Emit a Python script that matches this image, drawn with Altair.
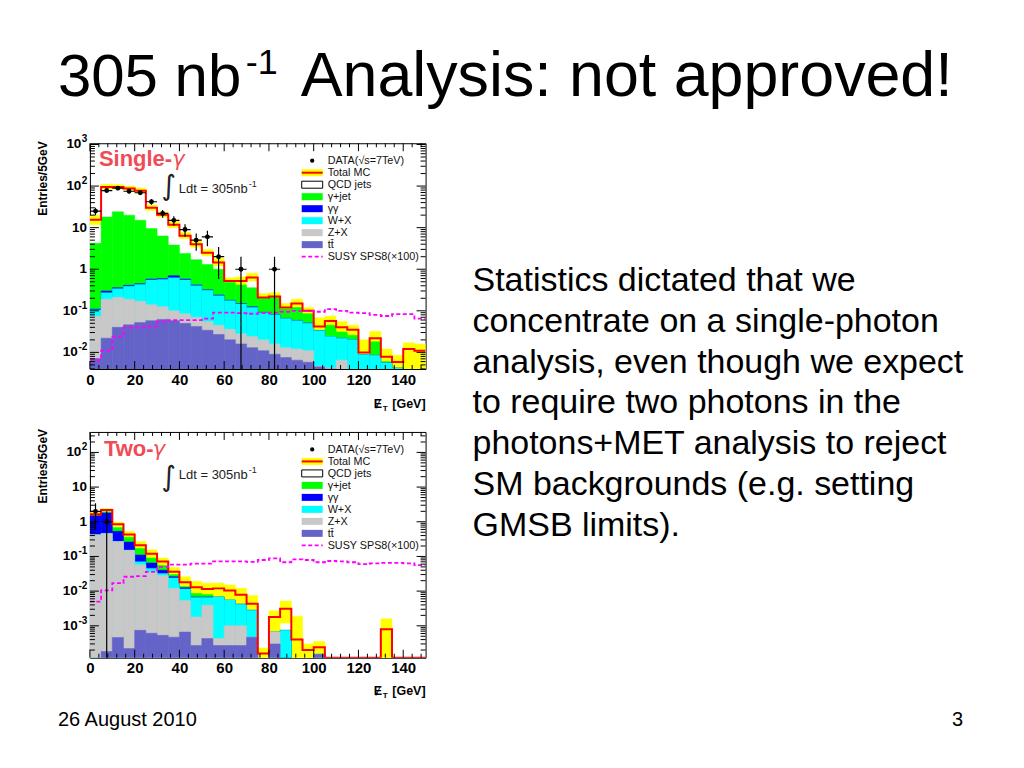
import math
import altair as alt
import pandas as pd

FONT = "Liberation Sans"

# ---------------- binning ----------------
BIN_LO = [0, 5, 10, 15, 20, 25, 30, 35, 40, 45, 50, 55, 60, 65, 70, 75, 80, 85, 90, 95,
          100, 105, 110, 115, 120, 125, 130, 135, 140, 145]
BIN_W = 5
X_MAX = 150
X_TICKS = [0, 20, 40, 60, 80, 100, 120, 140]
X_MINOR = [4, 8, 12, 16, 24, 28, 32, 36, 44, 48, 52, 56, 64, 68, 72, 76, 84, 88, 92, 96,
           104, 108, 112, 116, 124, 128, 132, 136, 144, 148]

# ---------------- Single-gamma panel (cumulative stack tops) ----------------
S_DATA = [25, 78, 89, 75, 69, 42, 22, 15, 9, 5, 6, 2, 0, 1, 0, 0, 1, 0, 0, 0, 0, 0, 0, 0, 0, 0, 0, 0, 0, 0]
S_TOTAL = [15.5, 95, 95, 88, 77, 30, 20.5, 11.7, 6.4, 4.0, 2.5, 1.45, 0.52, 0.52, 0.63, 0.21, 0.22, 0.12,
           0.15, 0.10, 0.042, 0.057, 0.040, 0.035, 0.010, 0.022, 0.0079, 0.0059, 0.012, 0.011]
S_HI = [20, 110, 108, 100, 90, 35, 24, 14, 7.6, 4.8, 3.0, 1.8, 0.62, 0.65, 0.80, 0.26, 0.27, 0.15,
        0.19, 0.12, 0.068, 0.075, 0.055, 0.045, 0.020, 0.032, 0.012, 0.0085, 0.017, 0.016]
S_LO = [11.7, 85, 85, 80, 68, 26, 18, 10, 5.5, 3.4, 2.1, 1.2, 0.44, 0.42, 0.52, 0.17, 0.17, 0.095,
        0.12, 0.08, 0.03, 0.043, 0.03, 0.026, 0.0065, 0.014, 0.005, 0.004, 0.003, 0.003]
S_GJET = [4.2, 18, 24, 20, 15, 9.5, 6.3, 3.8, 2.4, 1.7, 1.3, 1.0, 0.48, 0.42, 0.36, 0.20, 0.21, 0.11,
          0.12, 0.085, 0.034, 0.045, 0.031, 0.026, 0.0088, 0.018, 0.006, 0.0042, 0.003, 0.003]
S_GG = [0.11, 0.30, 0.36, 0.41, 0.45, 0.58, 0.60, 0.70, 0.58, 0.42, 0.32, 0.24, 0.18, 0.15, 0.125, 0.092,
        0.082, 0.066, 0.059, 0.051, 0.033, 0.024, 0.022, 0.02, 0.0088, 0.0085, 0.0056, 0.0042, 0.003, 0.003]
S_WX = [0.105, 0.27, 0.34, 0.39, 0.43, 0.55, 0.57, 0.62, 0.55, 0.40, 0.31, 0.23, 0.175, 0.145, 0.12, 0.09,
        0.08, 0.065, 0.058, 0.05, 0.033, 0.024, 0.022, 0.02, 0.0088, 0.0085, 0.0056, 0.0042, 0.003, 0.003]
S_ZX = [0.074, 0.19, 0.21, 0.19, 0.17, 0.14, 0.125, 0.10, 0.085, 0.07, 0.055, 0.045, 0.036, 0.028, 0.024,
        0.02, 0.016, 0.013, 0.012, 0.011, 0.0047, 0.0042, 0.0065, 0.003, 0.003, 0.003, 0.003, 0.003, 0.003, 0.003]
S_TT = [0.0071, 0.022, 0.040, 0.046, 0.052, 0.058, 0.062, 0.058, 0.050, 0.042, 0.034, 0.027, 0.020, 0.016,
        0.013, 0.011, 0.009, 0.0075, 0.0065, 0.0058, 0.0045, 0.004, 0.0035, 0.003, 0.003, 0.003, 0.003, 0.003,
        0.003, 0.003]
S_SUSY = [0.0065, 0.011, 0.024, 0.040, 0.040, 0.042, 0.055, 0.06, 0.06, 0.06, 0.065, 0.09, 0.09, 0.088, 0.085,
          0.088, 0.09, 0.095, 0.1, 0.098, 0.095, 0.11, 0.1, 0.09, 0.088, 0.08, 0.075, 0.083, 0.083, 0.065]

# ---------------- Two-gamma panel (cumulative stack tops) ----------------
D_DATA = [2, 1, 0, 0, 0, 0, 0, 0, 0, 0, 0, 0, 0, 0, 0, 0, 0, 0, 0, 0, 0, 0, 0, 0, 0, 0, 0, 0, 0, 0]
D_TOTAL = [1.66, 2.2, 0.85, 0.43, 0.21, 0.12, 0.072, 0.036, 0.018, 0.013, 0.0115, 0.012, 0.0105, 0.0078,
           0.0043, 1.6e-4, 0.0018, 0.0031, 4.0e-4, 2.0e-4, 2.4e-4, 0, 0, 0, 0, 0, 8.0e-4, 0, 0, 0]
D_HI = [1.85, 2.4, 0.98, 0.52, 0.27, 0.155, 0.09, 0.048, 0.026, 0.019, 0.017, 0.017, 0.015, 0.012, 0.0075,
        2.3e-4, 0.0027, 0.0052, 0.0019, 3.0e-4, 3.5e-4, 0, 0, 0, 0, 0, 0.0016, 0, 0, 0]
D_LO = [1.45, 2.0, 0.72, 0.36, 0.16, 0.085, 0.05, 0.024, 0.011, 0.0075, 0.0065, 0.0065, 0.005, 0.0032,
        0.0012, 0, 6e-4, 0.0012, 0, 0, 0, 0, 0, 0, 0, 0, 0, 0, 0, 0]
D_GJET = [1.5, 1.95, 0.68, 0.36, 0.17, 0.09, 0.055, 0.03, 0.0135, 0.0085, 0.0080, 0.0068, 0.0055, 0.0042,
          0.0028, 0, 6.6e-4, 7.4e-4, 0, 0, 1.5e-4, 0, 0, 0, 0, 0, 0, 0, 0, 0]
D_GG = [1.5, 1.8, 0.53, 0.26, 0.11, 0.065, 0.04, 0.026, 0.0125, 0.0068, 0.0068, 0.0068, 0.0055, 0.0042,
        0.0028, 0, 6.6e-4, 7.4e-4, 0, 0, 1.5e-4, 0, 0, 0, 0, 0, 0, 0, 0, 0]
D_WX = [0.42, 0.46, 0.27, 0.15, 0.07, 0.045, 0.032, 0.024, 0.0115, 0.0065, 0.0065, 0.0068, 0.0055, 0.0042,
        0.0028, 0, 6.6e-4, 7.4e-4, 0, 0, 1.5e-4, 0, 0, 0, 0, 0, 0, 0, 0, 0]
D_ZX = [0.42, 0.46, 0.27, 0.15, 0.058, 0.037, 0.028, 0.012, 0.0054, 0.0018, 0.0039, 4.3e-4, 0.001, 0.001,
        4.7e-4, 0, 6.6e-4, 0, 0, 0, 1.5e-4, 0, 0, 0, 0, 0, 0, 0, 0, 0]
D_TT = [0, 1.8e-4, 4.6e-4, 2.2e-4, 7.4e-4, 6.1e-4, 5.3e-4, 4.7e-4, 6.6e-4, 2.7e-4, 4.3e-4, 2.7e-4, 2.7e-4,
        2.7e-4, 4.7e-4, 0, 3.0e-4, 0, 0, 0, 1.5e-4, 0, 0, 0, 0, 0, 0, 0, 0, 0]
D_SUSY = [0.005, 0.0105, 0.017, 0.026, 0.027, 0.036, 0.05, 0.058, 0.058, 0.062, 0.062, 0.072, 0.072, 0.072,
          0.07, 0.079, 0.088, 0.068, 0.082, 0.079, 0.068, 0.074, 0.072, 0.068, 0.06, 0.063, 0.065, 0.065,
          0.063, 0.056]

# ---------------- axes ----------------
TOP_DOMAIN = [0.00398, 1072]
BOT_DOMAIN = [1.2e-4, 389]
TOP_YTICKS = [0.01, 0.1, 1, 10, 100, 1000]
TOP_YBASE = ["10", "10", "1", "10", "10", "10"]
TOP_YEXP = ["-2", "-1", "", "", "2", "3"]
BOT_YTICKS = [0.001, 0.01, 0.1, 1, 10, 100]
BOT_YBASE = ["10", "10", "10", "1", "10", "10"]
BOT_YEXP = ["-3", "-2", "-1", "", "", "2"]

# ---------------- legend / colours ----------------
COMP_NAMES = ["QCD jets", "band", "γ+jet", "γγ", "W+X", "Z+X", "tt̄"]
COMP_COLORS = ["#ffffff", "#ffff00", "#00ff00", "#0000ff", "#00ffff", "#c8c8c8", "#6464c8"]
LEGEND_LABELS = ["DATA(√s=7TeV)", "Total MC", "QCD jets", "γ+jet", "γγ", "W+X", "Z+X", "tt̄",
                 "SUSY SPS8(×100)"]

# ---------------- slide text ----------------
TITLE_A = "305 nb"
TITLE_SUP = "-1"
TITLE_B = "Analysis: not approved!"
BODY = ["Statistics dictated that we",
        "concentrate on a single-photon",
        "analysis, even though we expect",
        "to require two photons in the",
        "photons+MET analysis to reject",
        "SM backgrounds (e.g. setting",
        "GMSB limits)."]
FOOT_LEFT = "26 August 2010"
FOOT_RIGHT = "3"

W, H = 336, 226
ONE = pd.DataFrame({"k": [0]})


def txt(s, x, y, size, align="left", baseline="alphabetic", font=FONT, **kw):
    return alt.Chart(ONE).mark_text(text=s, align=align, baseline=baseline, fontSize=size,
                                    font=font, **kw).encode(x=alt.value(x), y=alt.value(y))


def box(x0, x1, y0, y1, **kw):
    return alt.Chart(ONE).mark_rect(**kw).encode(x=alt.value(x0), x2=alt.value(x1),
                                                 y=alt.value(y0), y2=alt.value(y1))


def hline(x0, x1, y, **kw):
    return alt.Chart(ONE).mark_rule(**kw).encode(x=alt.value(x0), x2=alt.value(x1), y=alt.value(y))


def log_ticks(domain):
    majors, minors = [], []
    for e in range(-5, 4):
        for k in range(1, 10):
            v = k * 10.0 ** e
            if domain[0] <= v <= domain[1]:
                (majors if k == 1 else minors).append(v)
    return majors, minors


def panel(total, hi, lo, gjet, gg, wx, zx, tt, susy, data, domain, yticks, ybase, yexp,
          tag, tag_x, tag_w, tag_base, lumi_base, int_y, xt_base, ytitle_y):
    ymin = domain[0]
    floor = ymin / 10.0
    xs = alt.Scale(domain=[0, X_MAX], nice=False, zero=False)
    ys = alt.Scale(type="log", domain=domain, nice=False)
    cs = alt.Scale(domain=COMP_NAMES, range=COMP_COLORS)

    def X(f):
        return alt.X(f, scale=xs, title=None)

    def Y(f):
        return alt.Y(f, scale=ys, title=None)

    base = [floor] * len(BIN_LO)
    series = [("QCD jets", base, total), ("band", lo, hi), ("γ+jet", base, gjet), ("γγ", base, gg),
              ("W+X", base, wx), ("Z+X", base, zx), ("tt̄", base, tt)]
    recs = []
    for name, lows, highs in series:
        for x0, a, b in zip(BIN_LO, lows, highs):
            if b <= floor:
                continue
            recs.append(dict(comp=name, x0=x0, x1=x0 + BIN_W, y0=max(a, floor), y1=b))
    rdf = pd.DataFrame(recs)

    rects = alt.Chart(rdf).mark_rect(clip=True, strokeWidth=0.5).encode(
        x=alt.X("x0:Q", scale=xs, title=None,
                axis=alt.Axis(values=X_TICKS, ticks=False, domain=False, grid=False, labelFont=FONT,
                              labelFontSize=15, labelFontWeight="bold", labelColor="black",
                              labelPadding=3, labelFlush=False, labelOverlap=False)),
        x2="x1:Q",
        y=alt.Y("y1:Q", scale=ys, title=None,
                axis=alt.Axis(values=yticks, labels=False, ticks=False, domain=False, grid=False)),
        y2="y0:Q",
        color=alt.Color("comp:N", scale=cs, legend=None),
        stroke=alt.Stroke("comp:N", scale=cs, legend=None),
    )

    def step_df(vals, clip_lo):
        yv = [max(v, clip_lo) for v in vals]
        return pd.DataFrame({"x": BIN_LO + [X_MAX], "y": yv + [yv[-1]]})

    red = alt.Chart(step_df(total, ymin)).mark_line(
        interpolate="step-after", color="#ff0000", strokeWidth=2, clip=True).encode(
        x=X("x:Q"), y=Y("y:Q"))
    sus = alt.Chart(step_df(susy, floor)).mark_line(
        interpolate="step-after", color="#ff00ff", strokeWidth=1.8, strokeDash=[4, 2.5],
        clip=True).encode(x=X("x:Q"), y=Y("y:Q"))

    pts = [(x0, n) for x0, n in zip(BIN_LO, data) if n > 0]
    ddf = pd.DataFrame({
        "xc": [p[0] + BIN_W / 2 for p in pts],
        "x0": [p[0] for p in pts],
        "x1": [p[0] + BIN_W for p in pts],
        "n": [p[1] for p in pts],
        "elo": [max(p[1] - math.sqrt(p[1]), floor / 10) for p in pts],
        "ehi": [p[1] + math.sqrt(p[1]) for p in pts],
    })
    ebar_v = alt.Chart(ddf).mark_rule(color="black", strokeWidth=1.2, clip=True).encode(
        x=X("xc:Q"), y=Y("elo:Q"), y2="ehi:Q")
    ebar_h = alt.Chart(ddf).mark_rule(color="black", strokeWidth=1.2, clip=True).encode(
        x=X("x0:Q"), x2="x1:Q", y=Y("n:Q"))
    dots = alt.Chart(ddf).mark_circle(color="black", size=24, opacity=1, clip=True).encode(
        x=X("xc:Q"), y=Y("n:Q"))

    # inward ROOT-style ticks
    majors, minors = log_ticks(domain)
    tick_layers = []
    for vals, ln in ((majors, 9), (minors, 5)):
        tdf = pd.DataFrame({"v": vals})
        tick_layers.append(alt.Chart(tdf).mark_rule(color="black", strokeWidth=1).encode(
            y=Y("v:Q"), x=alt.value(0), x2=alt.value(ln)))
        tick_layers.append(alt.Chart(tdf).mark_rule(color="black", strokeWidth=1).encode(
            y=Y("v:Q"), x=alt.value(W - ln), x2=alt.value(W)))
    for vals, ln in ((X_TICKS, 8), (X_MINOR, 4)):
        tdf = pd.DataFrame({"v": vals})
        tick_layers.append(alt.Chart(tdf).mark_rule(color="black", strokeWidth=1).encode(
            x=X("v:Q"), y=alt.value(H), y2=alt.value(H - ln)))
        tick_layers.append(alt.Chart(tdf).mark_rule(color="black", strokeWidth=1).encode(
            x=X("v:Q"), y=alt.value(0), y2=alt.value(ln)))

    # ROOT-style y labels: "10" with raised exponent, placed through the y scale
    ylab = []
    for v, b, e in zip(yticks, ybase, yexp):
        vdf = pd.DataFrame({"v": [v]})
        ew = sum(0.36 if c == "-" else 0.556 for c in e) * 10
        ylab.append(alt.Chart(vdf).mark_text(text=b, align="right", baseline="middle", fontSize=13.5,
                                             fontWeight="bold", font=FONT, color="black").encode(
            y=Y("v:Q"), x=alt.value(-3 - ew)))
        if e:
            ylab.append(alt.Chart(vdf).mark_text(text=e, align="right", baseline="middle", fontSize=10,
                                                 fontWeight="bold", font=FONT, color="black",
                                                 dy=-5).encode(y=Y("v:Q"), x=alt.value(-2.5)))

    # legend (ROOT TLegend look)
    leg = []
    bx0, bx1, tx = 212, 233, 238
    for i, lab in enumerate(LEGEND_LABELS):
        r = 17.5 + 12 * i
        leg.append(txt(lab, tx, r + 3.7, 10.8, color="#111111"))
        if i == 0:
            leg.append(alt.Chart(ONE).mark_circle(color="black", size=18, opacity=1).encode(
                x=alt.value((bx0 + bx1) / 2), y=alt.value(r)))
        elif i == 1:
            leg.append(box(bx0, bx1, r - 3.5, r + 3.5, color="#ffff00"))
            leg.append(hline(bx0, bx1, r, color="#ff0000", strokeWidth=2))
        elif i == 2:
            leg.append(box(bx0, bx1, r - 3.5, r + 3.5, fill="#ffffff", stroke="black", strokeWidth=1))
        elif i == 8:
            leg.append(hline(bx0, bx1, r, color="#ff00ff", strokeWidth=1.8, strokeDash=[4, 2.5]))
        else:
            leg.append(box(bx0, bx1, r - 3.5, r + 3.5, color=COMP_COLORS[i - 1]))

    notes = [
        txt(tag[:-1], tag_x, tag_base, 22, fontWeight="bold", color="#f04b57"),
        txt(tag[-1], tag_x + tag_w, tag_base, 21, fontStyle="italic", font="DejaVu Sans",
            color="#f04b57"),
        txt("∫", 79, int_y, 28, align="center", baseline="middle", font="DejaVu Sans",
            color="#222222"),
        txt("Ldt = 305nb", 89, lumi_base, 13, color="#222222"),
        txt("-1", 159, lumi_base - 6, 9, color="#222222"),
        txt("Entries/5GeV", -47, ytitle_y, 12, align="right", baseline="middle", angle=270,
            fontWeight="bold"),
        txt("Ɇ", 284, xt_base, 12.5, fontWeight="bold"),
        txt("T", 293, xt_base + 3, 8, fontWeight="bold"),
        txt("[GeV]", 336, xt_base, 12.5, align="right", fontWeight="bold"),
    ]
    layers = [rects, red, sus, ebar_v, ebar_h, dots] + tick_layers + ylab + leg + notes
    return layers


top_layers = panel(S_TOTAL, S_HI, S_LO, S_GJET, S_GG, S_WX, S_ZX, S_TT, S_SUSY, S_DATA, TOP_DOMAIN,
                   TOP_YTICKS, TOP_YBASE, TOP_YEXP, "Single-γ", 9, 73.5, 23, 50, 44, 265, -2)
bot_layers = panel(D_TOTAL, D_HI, D_LO, D_GJET, D_GG, D_WX, D_ZX, D_TT, D_SUSY, D_DATA, BOT_DOMAIN,
                   BOT_YTICKS, BOT_YBASE, BOT_YEXP, "Two-γ", 14, 49, 24, 47, 46, 263, -3)

# slide-level text (positioned relative to the top panel's plot area)
page = alt.Chart(ONE).mark_rect(opacity=0).encode(
    x=alt.value(-81), x2=alt.value(926), y=alt.value(-134), y2=alt.value(617))
slide = [txt(TITLE_A, -32, -47, 60),
         txt(TITLE_SUP, 156, -69, 36),
         txt(TITLE_B, 211, -47, 62.8)]
for i, line in enumerate(BODY):
    slide.append(txt(line, 383, 148 + 40.8 * i, 34))
slide.append(txt(FOOT_LEFT, -32, 583, 20))
slide.append(txt(FOOT_RIGHT, 874, 583, 20, align="right"))

top = alt.layer(*(top_layers + [page] + slide)).properties(width=W, height=H)
bottom = alt.layer(*bot_layers).properties(width=W, height=H)

chart = alt.vconcat(top, bottom, spacing=63, bounds="flush").resolve_scale(
    x="independent", y="independent", color="independent", stroke="independent"
).properties(padding=0).configure_view(stroke="black", strokeWidth=1)

chart.save("out.html", embed_options={"renderer": "svg", "actions": False})
